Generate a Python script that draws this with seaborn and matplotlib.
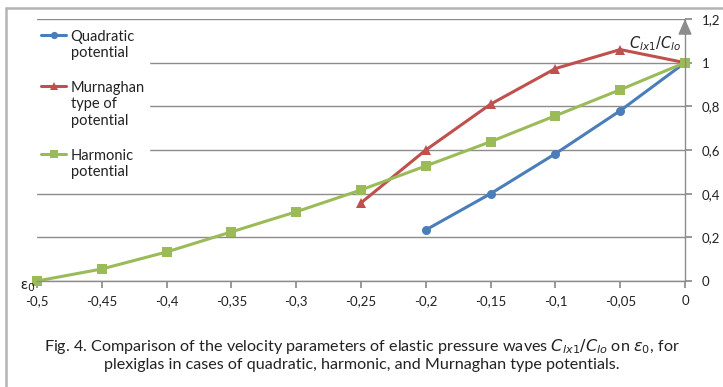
import numpy as np
import pandas as pd
import matplotlib
matplotlib.use('Agg')
import matplotlib.pyplot as plt
from matplotlib.lines import Line2D
import seaborn as sns

# data
eps_quad = [-0.2, -0.15, -0.1, -0.05, 0.0]
c_quad = [0.234, 0.40, 0.583, 0.78, 1.0]

eps_murn = [-0.25, -0.2, -0.15, -0.1, -0.05, 0.0]
c_murn = [0.358, 0.60, 0.81, 0.973, 1.06, 1.0]

eps_harm = [-0.5, -0.45, -0.4, -0.35, -0.3, -0.25, -0.2, -0.15, -0.1, -0.05, 0.0]
c_harm = [0.0, 0.055, 0.133, 0.225, 0.317, 0.417, 0.527, 0.638, 0.757, 0.876, 1.0]

labels = ['Quadratic\npotential', 'Murnaghan\ntype of\npotential', 'Harmonic\npotential']
colors = ['#4A7EBB', '#C0504D', '#9BBB59']
markers = ['o', '^', 's']

x_ticks = [-0.5, -0.45, -0.4, -0.35, -0.3, -0.25, -0.2, -0.15, -0.1, -0.05, 0.0]
x_ticklabels = ['-0,5', '-0,45', '-0,4', '-0,35', '-0,3', '-0,25', '-0,2', '-0,15', '-0,1', '-0,05', '0']
y_ticks = [0, 0.2, 0.4, 0.6, 0.8, 1.0, 1.2]
y_ticklabels = ['0', '0,2', '0,4', '0,6', '0,8', '1', '1,2']

df = pd.concat([
    pd.DataFrame({'eps': eps_quad, 'c': c_quad, 'series': labels[0]}),
    pd.DataFrame({'eps': eps_murn, 'c': c_murn, 'series': labels[1]}),
    pd.DataFrame({'eps': eps_harm, 'c': c_harm, 'series': labels[2]}),
])

sns.set_theme(style='white')
plt.rcParams['font.family'] = ['Lato', 'DejaVu Sans']

fig = plt.figure(figsize=(7.23, 3.87), dpi=100)
ax = fig.add_axes([37 / 723, 1 - 281 / 387, (685 - 37) / 723, (281 - 19) / 387])

sns.lineplot(data=df, x='eps', y='c', hue='series', style='series',
             hue_order=labels, style_order=labels,
             palette=colors, markers=markers, dashes=False,
             linewidth=2.2, markersize=6.5, markeredgewidth=0,
             sort=False, ax=ax)

ax.set_xlim(-0.5, 0.0)
ax.set_ylim(0, 1.2)
ax.set_xlabel('')
ax.set_ylabel('')
ax.set_xticks(x_ticks)
ax.set_xticklabels(x_ticklabels)
ax.set_yticks(y_ticks)
ax.set_yticklabels(y_ticklabels)
ax.yaxis.tick_right()

for s in ['top', 'left']:
    ax.spines[s].set_visible(False)
for s in ['bottom', 'right']:
    ax.spines[s].set_color('#8c8c8c')
    ax.spines[s].set_linewidth(1.0)

ax.yaxis.grid(True, color='#8c8c8c', linewidth=1.0)
ax.xaxis.grid(False)
ax.tick_params(axis='x', bottom=True, direction='out', length=5, color='#8c8c8c',
               labelsize=9.5, pad=5, labelcolor='#222222')
ax.tick_params(axis='y', right=True, direction='out', length=5, color='#8c8c8c',
               labelsize=9.5, pad=7, labelcolor='#222222')
for ln in ax.lines:
    ln.set_clip_on(False)

# arrow on the y axis
ax.annotate('', xy=(0, 1.2), xytext=(0, 1.13), xycoords='data',
            arrowprops=dict(arrowstyle='-|>,head_width=0.35,head_length=0.8',
                            color='#8c8c8c', lw=1.0, shrinkA=0, shrinkB=0),
            annotation_clip=False)
ax.text(-0.003, 1.085, r'$C_{lx1}/C_{lo}$', ha='right', va='center', fontsize=10.5,
        color='#222222')
ax.text(-0.5015, 0.006, 'ε$_0$', ha='right', va='top', fontsize=11,
        color='#222222')

leg = ax.legend(loc='upper left', bbox_to_anchor=(0.0, 0.975), frameon=True,
                fontsize=10.5, labelspacing=1.45, handlelength=1.7,
                handletextpad=0.3, borderpad=0.3, borderaxespad=0.0,
                markerscale=0.8)
leg.get_frame().set_facecolor('white')
leg.get_frame().set_edgecolor('white')
leg.get_frame().set_alpha(1.0)
for t in leg.get_texts():
    t.set_color('#222222')
# put each handle level with the first line of its label
for col in leg._legend_handle_box.get_children():
    for row in col.get_children():
        row.align = 'top'

# outer frame (left and top edges visible)
fig.add_artist(Line2D([6 / 723, 6 / 723], [0, 1 - 8 / 387], color='#b4b4b4', lw=1.8))
fig.add_artist(Line2D([6 / 723, 1], [1 - 8 / 387, 1 - 8 / 387], color='#b4b4b4', lw=1.8))

fig.text(0.5, 1 - 346 / 387,
         r'Fig. 4. Comparison of the velocity parameters of elastic pressure waves $C_{lx1}/C_{lo}$ on $\varepsilon_0$, for',
         ha='center', va='center', fontsize=11.6, color='#222222')
fig.text(0.5, 1 - 365 / 387,
         'plexiglas in cases of quadratic, harmonic, and Murnaghan type potentials.',
         ha='center', va='center', fontsize=11.6, color='#222222')

fig.savefig('out.png', dpi=100, facecolor='white')
